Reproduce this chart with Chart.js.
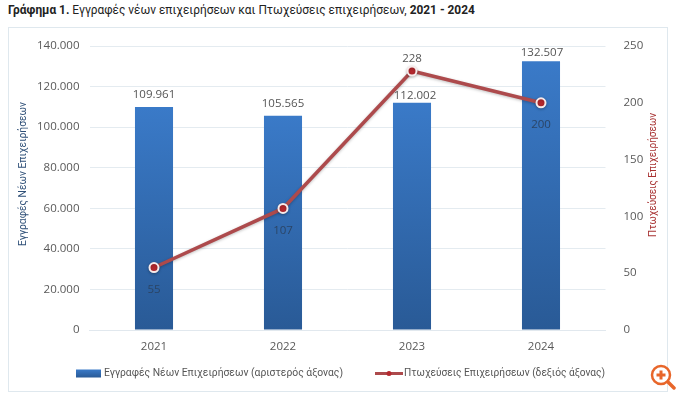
<!DOCTYPE html>
<html lang="el">
<head>
<meta charset="utf-8">
<script src="https://cdn.jsdelivr.net/npm/chart.js@4"></script>
<style>
  body { margin: 0; background: #fff; }
  #wrap { position: relative; width: 680px; height: 394px; overflow: hidden; }
  #title { position: absolute; left: 8px; top: 1px; font: 11.9px/18px Roboto, sans-serif; color: #222; white-space: nowrap; }
  canvas { position: absolute; left: 0; top: 0; }
  #icon { position: absolute; left: 650px; top: 364px; }
</style>
</head>
<body>
<div id="wrap">
  <div id="title"><b>Γράφημα 1.</b> Εγγραφές νέων επιχειρήσεων και Πτωχεύσεις επιχειρήσεων, <b>2021 - 2024</b></div>
  <canvas id="chart" width="680" height="394"></canvas>
  <svg id="icon" width="26" height="26" viewBox="0 0 26 26">
    <circle cx="11" cy="11" r="9" fill="#fff" stroke="#e8662a" stroke-width="2.5"/>
    <path d="M11 6.5v9M6.5 11h9" stroke="#e8662a" stroke-width="3"/>
    <path d="M18 18l6 6" stroke="#e8662a" stroke-width="3.5" stroke-linecap="round"/>
  </svg>
</div>
<script>
// δεδομένα γραφήματος
const years = ['2021', '2022', '2023', '2024'];
const registrations = [109961, 105565, 112002, 132507];
const bankruptcies = [55, 107, 228, 200];
const barName = 'Εγγραφές Νέων Επιχειρήσεων (αριστερός άξονας)';
const lineName = 'Πτωχεύσεις Επιχειρήσεων (δεξιός άξονας)';
const leftTitle = 'Εγγραφές Νέων Επιχειρήσεων';
const rightTitle = 'Πτωχεύσεις Επιχειρήσεων';

const FONT = '"Open Sans", sans-serif';
const TEXT_FONT = 'Roboto, sans-serif';
const fmt = v => String(v).replace(/\B(?=(\d{3})+(?!\d))/g, '.');

function barGradient(c) {
    const chart = c.chart;
    if (!chart.chartArea || c.dataIndex === undefined) return '#3470b8';
    const y = chart.scales.y;
    const g = chart.ctx.createLinearGradient(0, y.getPixelForValue(registrations[c.dataIndex]), 0, y.bottom);
    g.addColorStop(0, '#3a7ac8');
    g.addColorStop(1, '#295a96');
    return g;
}

// πλαίσιο, τίτλοι αξόνων, ετικέτες τιμών, υπόμνημα
const decorations = {
    id: 'decorations',
    beforeDraw(chart) {
        const ctx = chart.ctx;
        ctx.save();
        ctx.strokeStyle = '#dfe8ee';
        ctx.lineWidth = 1;
        ctx.strokeRect(8.5, 27.5, 659, 364);
        ctx.restore();
    },
    beforeDatasetDraw(chart, args) {
        if (args.index !== 1) return;
        const ctx = chart.ctx;
        ctx.save();
        ctx.shadowColor = 'rgba(0,0,0,0.25)';
        ctx.shadowBlur = 3;
        ctx.shadowOffsetY = 1;
    },
    afterDatasetDraw(chart, args) {
        if (args.index === 1) chart.ctx.restore();
    },
    afterDraw(chart) {
        const ctx = chart.ctx;
        const { x, y, y2 } = chart.scales;
        const barGaps = [12, 12, 7, 8];
        const barNudge = [0, 0, 3, 1];
        ctx.save();
        ctx.textAlign = 'center';
        ctx.textBaseline = 'middle';
        ctx.font = '11.5px ' + FONT;

        // ετικέτες ράβδων
        ctx.fillStyle = '#555';
        registrations.forEach((v, i) => {
            ctx.fillText(fmt(v), x.getPixelForValue(i) + barNudge[i], y.getPixelForValue(v) - barGaps[i]);
        });

        // ετικέτες γραμμής: μόνο το 2023 πάνω από το σημείο
        bankruptcies.forEach((v, i) => {
            const above = v === Math.max(...bankruptcies);
            ctx.fillStyle = above ? '#555' : '#2b4566';
            ctx.fillText(fmt(v), x.getPixelForValue(i), y2.getPixelForValue(v) + (above ? -12 : 22));
        });

        // τίτλοι αξόνων, και οι δύο με φορά προς τα πάνω
        ctx.font = '11.5px ' + TEXT_FONT;
        [[leftTitle, 23, 174, '#2f5078', 144], [rightTitle, 653, 175, '#a83232', 124]].forEach(t => {
            ctx.save();
            ctx.translate(t[1], t[2]);
            ctx.rotate(-Math.PI / 2);
            ctx.fillStyle = t[3];
            ctx.fillText(t[0], 0, 0, t[4]);
            ctx.restore();
        });

        // υπόμνημα
        const ly = 373.5;
        const g = ctx.createLinearGradient(0, ly - 4, 0, ly + 4);
        g.addColorStop(0, '#3a7ac8');
        g.addColorStop(1, '#295a96');
        ctx.fillStyle = g;
        ctx.fillRect(76, ly - 4, 25, 8);
        ctx.strokeStyle = '#ad4a4c';
        ctx.lineWidth = 3;
        ctx.beginPath();
        ctx.moveTo(375, ly);
        ctx.lineTo(403, ly);
        ctx.stroke();
        ctx.fillStyle = '#b5282e';
        ctx.beginPath();
        ctx.arc(389, ly, 2.5, 0, Math.PI * 2);
        ctx.fill();
        ctx.font = '11.5px ' + TEXT_FONT;
        ctx.fillStyle = '#555';
        ctx.textAlign = 'left';
        ctx.fillText(barName, 104, ly, 239);
        ctx.fillText(lineName, 404, ly, 201);
        ctx.restore();
    }
};

new Chart(document.getElementById('chart'), {
    type: 'bar',
    data: {
        labels: years,
        datasets: [
            {
                type: 'bar',
                label: barName,
                data: registrations,
                yAxisID: 'y',
                backgroundColor: barGradient,
                barPercentage: 0.295,
                categoryPercentage: 1,
                order: 2
            },
            {
                type: 'line',
                label: lineName,
                data: bankruptcies,
                yAxisID: 'y2',
                borderColor: '#ad4a4c',
                borderWidth: 3.5,
                tension: 0,
                pointRadius: 4.5,
                pointBackgroundColor: '#b5282e',
                pointBorderColor: '#f6eaea',
                pointBorderWidth: 2,
                order: 1
            }
        ]
    },
    options: {
        responsive: false,
        animation: false,
        layout: { padding: { top: 46, bottom: 0, left: 0, right: 0 } },
        plugins: { legend: { display: false }, title: { display: false }, tooltip: { enabled: false } },
        scales: {
            x: {
                grid: { display: false },
                border: { color: '#e1e8ee' },
                ticks: { color: '#595959', font: { family: FONT, size: 11.5 }, padding: 2 },
                afterFit(s) { s.height = 64; }
            },
            y: {
                position: 'left',
                min: 0,
                max: 140000,
                grid: { color: '#e4ebf0', drawTicks: false },
                border: { display: false },
                ticks: {
                    stepSize: 20000,
                    color: '#595959',
                    font: { family: FONT, size: 11.5 },
                    padding: 10,
                    callback: v => fmt(v)
                },
                afterFit(s) { s.width = 89.5; }
            },
            y2: {
                position: 'right',
                min: 0,
                max: 250,
                grid: { display: false },
                border: { display: false },
                ticks: {
                    stepSize: 50,
                    color: '#595959',
                    font: { family: FONT, size: 11.5 },
                    padding: 10
                },
                afterFit(s) { s.width = 74.5; }
            }
        }
    },
    plugins: [decorations]
});
</script>
</body>
</html>
